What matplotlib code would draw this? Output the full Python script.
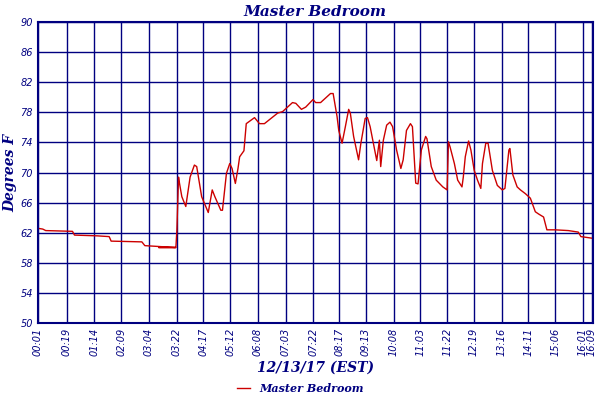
import matplotlib
matplotlib.use("Agg")
import matplotlib.pyplot as plt

tick_labels = ["00:01","00:19","01:14","02:09","03:04","03:22","04:17","05:12","06:08","07:03",
               "07:22","08:17","09:13","10:08","11:03","11:22","12:19","13:16","14:11","15:06","16:01","16:09"]
tick_idx = [0,29,57,84,112,140,167,194,222,250,278,304,331,359,386,413,440,468,495,522,550,559]

zx = [0,52,55,60,63,70,82,95,108,115,130,150,162,170,188,193,205,215,222,232,240,245,258,265,290,305,320,360,375,405,415,432,445,467,475,490,520,528,540,545,555,565,575,580,590,605,612,625,632,640,660,668,672,680,690,700,708,720,733,740,750,762,768,778,785,795,808,812,825,840,860,873,877,882,895,905,918,922,928,938,945,955,965,975,980,990,997,1010,1025,1040,1048,1060,1063,1072,1085,1095,1110,1125,1140,1150,1165,1175,1200,1240,1270,1278,1310]
temps_late = [60.05,60.05,62.35,69.4,68.56,66.8,65.5,69.4,71.0,70.8,66.8,64.7,67.7,66.8,65.0,65.0,69.9,71.2,70.55,68.56,70.55,72.1,72.9,76.5,77.3,76.5,76.5,77.9,78.1,79.3,79.2,78.4,78.7,79.7,79.3,79.3,80.5,80.5,77.4,75.6,73.9,76.1,78.4,77.9,74.8,71.7,73.9,77.2,77.3,76.1,71.6,74.3,70.8,74.3,76.3,76.7,76.1,73.0,70.55,71.7,75.6,76.5,76.1,68.6,68.5,73.0,74.8,74.5,70.8,69.0,68.1,67.7,74.1,73.4,71.2,69.0,68.1,69.4,72.1,74.2,73.0,70.3,69.0,67.9,71.2,73.9,73.9,70.3,68.3,67.7,67.9,73.0,73.2,69.7,68.1,67.7,67.2,66.6,64.8,64.5,64.1,62.4,62.4,62.3,62.1,61.5,61.3]

early_idx = [0,5,8,35,37,60,72,74,105,108,139]
early_temps = [62.6,62.5,62.3,62.2,61.7,61.6,61.5,60.9,60.8,60.3,60.05]

xs = early_idx + [122 + z/3 for z in zx]
ys = early_temps + temps_late

navy = "#000080"
fig = plt.figure(figsize=(6,4), dpi=100)
ax = fig.add_axes([0.063, 0.192, 0.925, 0.753])
ax.plot(xs, ys, color="#cc0000", lw=1, label="Master Bedroom")
ax.set_xlim(0, 560)
ax.set_ylim(50, 90)
ax.set_yticks(range(50, 91, 4))
ax.set_xticks(tick_idx)
ax.set_xticklabels(tick_labels, rotation=90, fontsize=7, style="italic", color=navy)
ax.tick_params(axis="y", labelsize=7, colors=navy, length=0)
for t in ax.get_yticklabels():
    t.set_style("italic")
ax.tick_params(axis="x", length=0, colors=navy)
ax.grid(True, color=navy, lw=1)
for s in ax.spines.values():
    s.set_color(navy); s.set_linewidth(1.5)
ax.set_title("Master Bedroom", fontsize=11, fontweight="bold", style="italic", color=navy, family="DejaVu Serif", pad=4)
ax.set_ylabel("Degrees F", fontsize=10, fontweight="bold", style="italic", color=navy, family="DejaVu Serif", labelpad=2)
ax.set_xlabel("12/13/17 (EST)", fontsize=10, fontweight="bold", style="italic", color=navy, family="DejaVu Serif", labelpad=3)
leg = fig.legend(loc="lower center", bbox_to_anchor=(0.5, -0.01), frameon=False, handlelength=1.2,
                 prop={"family": "DejaVu Serif", "style": "italic", "weight": "bold", "size": 8})
for t in leg.get_texts():
    t.set_color(navy)
fig.savefig("out.png")
